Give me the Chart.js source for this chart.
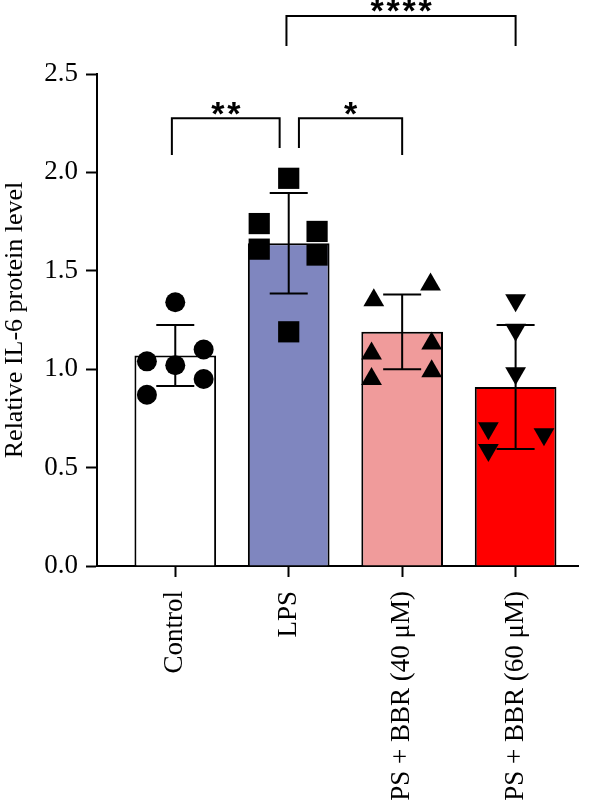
<!DOCTYPE html>
<html>
<head>
<meta charset="utf-8">
<script src="https://cdn.jsdelivr.net/npm/chart.js@4.4.1/dist/chart.umd.min.js"></script>
<style>
  html, body { margin: 0; padding: 0; background: #fff; overflow: hidden; }
  #wrap { width: 600px; height: 800px; position: relative; }
</style>
</head>
<body>
<div id="wrap"><canvas id="c"></canvas></div>
<script>
// groups on the x axis
const categories = ['Control', 'LPS', 'LPS + BBR (40 μM)', 'LPS + BBR (60 μM)']
// bar height (mean) and error (SD) per group
const means = [1.07, 1.64, 1.19, 0.91]
const sds = [0.155, 0.255, 0.19, 0.315]
// individual points per group
const controlPts = [1.34, 1.04, 1.02, 1.10, 0.95, 0.87]
const lpsPts = [1.97, 1.74, 1.61, 1.70, 1.58, 1.19]
const bbr40Pts = [1.35, 1.43, 1.08, 1.13, 0.95, 0.99]
const bbr60Pts = [1.35, 1.20, 0.98, 0.70, 0.67, 0.59]
// horizontal spread of the points inside each bar (in category units)
const controlJitter = [0, -0.25, 0, 0.25, 0.25, -0.25]
const lpsJitter = [0, -0.26, -0.26, 0.25, 0.25, 0]
const bbr40Jitter = [-0.25, 0.25, -0.27, 0.26, -0.27, 0.26]
const bbr60Jitter = [0, 0, 0, -0.24, 0.25, -0.24]
// y axis ticks
const yTicks = [0, 0.5, 1.0, 1.5, 2.0, 2.5]
// significance brackets: from group, to group, height, leg ends, label
const comparisons = [
    { from: -0.03, to: 0.92, y: 2.275, endA: 2.088, endB: 2.124, label: '**' },
    { from: 1.09, to: 2.0, y: 2.275, endA: 2.124, endB: 2.088, label: '*' },
    { from: 0.98, to: 3.0, y: 2.795, endA: 2.642, endB: 2.642, label: '****' }
]

const barColors = ['#ffffff', '#7f86bf', '#f09b9b', '#ff0000']

const toPoints = (vals, jit, i) => vals.map((v, k) => ({ x: i + jit[k], y: v }))

const scatterSet = (vals, jit, i, style, rot, r) => ({
    type: 'scatter',
    data: toPoints(vals, jit, i),
    pointStyle: style,
    rotation: rot,
    pointRadius: r,
    pointHoverRadius: r,
    backgroundColor: '#000',
    borderColor: '#000',
    borderWidth: 0,
    order: 1
})

const errorBars = {
    id: 'errorBars',
    afterDatasetDraw(chart, args) {
        if (args.index !== 0) return
        const ctx = chart.ctx
        const x = chart.scales.x, y = chart.scales.y
        ctx.save()
        ctx.strokeStyle = '#000'
        ctx.lineWidth = 2
        means.forEach((m, i) => {
            const px = x.getPixelForValue(i)
            const top = y.getPixelForValue(m + sds[i])
            const bot = y.getPixelForValue(m - sds[i])
            const cap = 19
            ctx.beginPath()
            ctx.moveTo(px, top); ctx.lineTo(px, bot)
            ctx.moveTo(px - cap, top); ctx.lineTo(px + cap, top)
            ctx.moveTo(px - cap, bot); ctx.lineTo(px + cap, bot)
            ctx.stroke()
        })
        ctx.restore()
    }
}

const brackets = {
    id: 'brackets',
    afterDraw(chart) {
        const ctx = chart.ctx
        const x = chart.scales.x, y = chart.scales.y
        ctx.save()
        ctx.strokeStyle = '#000'
        ctx.fillStyle = '#000'
        ctx.lineWidth = 2
        ctx.font = 'bold 34px "Liberation Sans"'
        ctx.textAlign = 'center'
        ctx.textBaseline = 'alphabetic'
        const m = ctx.measureText('*')
        const shift = (m.actualBoundingBoxAscent - m.actualBoundingBoxDescent) / 2
        comparisons.forEach(c => {
            const x1 = x.getPixelForValue(c.from), x2 = x.getPixelForValue(c.to)
            const yy = y.getPixelForValue(c.y)
            ctx.beginPath()
            ctx.moveTo(x1, y.getPixelForValue(c.endA))
            ctx.lineTo(x1, yy)
            ctx.lineTo(x2, yy)
            ctx.lineTo(x2, y.getPixelForValue(c.endB))
            ctx.stroke()
            const n = c.label.length
            const mid = (x1 + x2) / 2
            const cy = yy - 10
            for (let k = 0; k < n; k++) {
                ctx.fillText('*', mid + (k - (n - 1) / 2) * 16, cy + shift)
            }
        })
        ctx.restore()
    }
}

new Chart(document.getElementById('c'), {
    type: 'bar',
    data: {
        datasets: [
            {
                type: 'bar',
                data: means.map((m, i) => ({ x: i, y: m })),
                backgroundColor: barColors,
                borderColor: '#000',
                borderWidth: 2,
                categoryPercentage: 1,
                barPercentage: 0.72,
                order: 5
            },
            scatterSet(controlPts, controlJitter, 0, 'circle', 0, 10),
            scatterSet(lpsPts, lpsJitter, 1, 'rect', 0, 15),
            scatterSet(bbr40Pts, bbr40Jitter, 2, 'triangle', 0, 12),
            scatterSet(bbr60Pts, bbr60Jitter, 3, 'triangle', 180, 12)
        ]
    },
    options: {
        responsive: true,
        maintainAspectRatio: false,
        animation: false,
        layout: { padding: { top: 74, right: 22, left: 0, bottom: 0 } },
        plugins: { legend: { display: false }, tooltip: { enabled: false } },
        scales: {
            x: {
                type: 'linear',
                min: -0.69,
                max: 3.55,
                offset: false,
                afterBuildTicks: s => { s.ticks = categories.map((c, i) => ({ value: i })) },
                afterFit: s => { s.height = 234 },
                ticks: {
                    autoSkip: false,
                    minRotation: 90,
                    maxRotation: 90,
                    padding: 14,
                    color: '#000',
                    font: { family: '"Liberation Serif"', size: 27 },
                    callback: v => categories[v]
                },
                grid: { offset: false, drawOnChartArea: false, drawTicks: true, tickLength: 11, tickColor: '#000', tickWidth: 2 },
                border: { color: '#000', width: 2 }
            },
            y: {
                min: 0,
                max: 2.5,
                afterBuildTicks: s => { s.ticks = yTicks.map(v => ({ value: v })) },
                afterFit: s => { s.width = 97 },
                ticks: {
                    padding: 8,
                    color: '#000',
                    font: { family: '"Liberation Serif"', size: 27 },
                    callback: v => v.toFixed(1)
                },
                title: {
                    display: true,
                    text: 'Relative IL-6 protein level',
                    color: '#000',
                    padding: 0,
                    font: { family: '"Liberation Serif"', size: 26 }
                },
                grid: { drawOnChartArea: false, drawTicks: true, tickLength: 11, tickColor: '#000', tickWidth: 2 },
                border: { color: '#000', width: 2 }
            }
        }
    },
    plugins: [errorBars, brackets]
})
</script>
</body>
</html>
